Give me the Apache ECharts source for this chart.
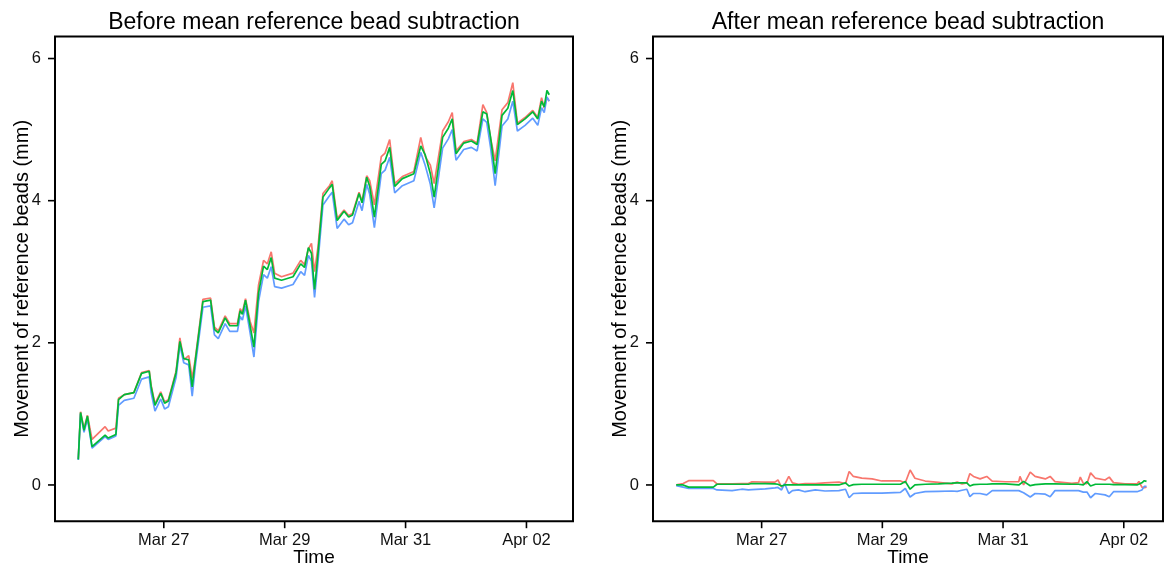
<!DOCTYPE html>
<html>
<head>
<meta charset="utf-8">
<script src="https://cdn.jsdelivr.net/npm/echarts@6/dist/echarts.min.js"></script>
<style>
html,body{margin:0;padding:0;background:#fff;}
#chart{width:1165px;height:568px;}
</style>
</head>
<body>
<div id="chart"></div>
<script>
// time in days since Mar 25 00:00
const tickDays = [2, 4, 6, 8];
const tickLabels = ["Mar 27", "Mar 29", "Mar 31", "Apr 02"];
const yTicks = [0, 2, 4, 6];
const panelTitles = ["Before mean reference bead subtraction", "After mean reference bead subtraction"];
const xTitle = "Time";
const yTitle = "Movement of reference beads (mm)";

const timesBefore = [0.585,0.623,0.680,0.737,0.813,1.029,1.080,1.207,1.251,1.346,1.505,1.632,1.759,1.791,1.854,1.949,2.013,2.076,2.203,2.266,2.330,2.412,2.470,2.520,2.647,2.774,2.838,2.901,3.015,3.091,3.218,3.263,3.301,3.352,3.428,3.491,3.567,3.650,3.713,3.777,3.834,3.948,4.138,4.265,4.329,4.392,4.443,4.494,4.551,4.633,4.741,4.786,4.868,4.982,5.058,5.122,5.230,5.280,5.357,5.407,5.484,5.598,5.661,5.737,5.820,5.947,6.137,6.251,6.327,6.410,6.473,6.613,6.708,6.772,6.835,6.962,7.089,7.184,7.279,7.343,7.406,7.482,7.596,7.692,7.774,7.850,7.977,8.104,8.187,8.250,8.294,8.339,8.377];
const greenBefore = [0.36,1.02,0.77,0.97,0.54,0.70,0.66,0.71,1.20,1.27,1.30,1.57,1.60,1.38,1.12,1.29,1.15,1.18,1.58,2.02,1.78,1.76,1.38,1.74,2.58,2.60,2.19,2.14,2.35,2.24,2.24,2.45,2.40,2.60,2.24,1.94,2.70,3.08,3.03,3.20,2.91,2.88,2.93,3.11,3.06,3.34,3.26,2.75,3.26,4.05,4.18,4.23,3.72,3.85,3.77,3.80,4.10,3.97,4.33,4.20,3.77,4.51,4.56,4.75,4.20,4.31,4.38,4.77,4.64,4.38,4.05,4.89,5.02,5.15,4.66,4.81,4.84,4.79,5.25,5.22,4.89,4.38,5.20,5.30,5.55,5.07,5.15,5.25,5.15,5.40,5.32,5.55,5.49];
const redBefore = [0.36,1.03,0.79,0.98,0.64,0.82,0.76,0.80,1.22,1.27,1.30,1.58,1.61,1.40,1.14,1.31,1.17,1.20,1.60,2.07,1.76,1.82,1.50,1.77,2.61,2.63,2.22,2.17,2.38,2.27,2.27,2.48,2.43,2.62,2.30,2.14,2.81,3.16,3.11,3.28,2.98,2.93,2.98,3.16,3.10,3.32,3.40,3.00,3.35,4.10,4.21,4.28,3.75,3.87,3.79,3.82,4.12,3.99,4.35,4.28,3.94,4.62,4.67,4.86,4.24,4.34,4.41,4.89,4.62,4.50,4.24,4.98,5.11,5.24,4.70,4.83,4.86,4.81,5.35,5.24,4.88,4.56,5.28,5.38,5.66,5.09,5.17,5.27,5.17,5.45,5.30,5.45,5.40];
const blueBefore = [0.35,1.00,0.74,0.93,0.52,0.68,0.64,0.69,1.12,1.19,1.22,1.49,1.52,1.30,1.04,1.21,1.07,1.10,1.51,1.97,1.72,1.69,1.25,1.66,2.50,2.52,2.11,2.06,2.27,2.16,2.16,2.37,2.32,2.52,2.14,1.80,2.58,2.96,2.91,3.07,2.79,2.77,2.82,3.00,2.95,3.23,3.15,2.64,3.14,3.94,4.07,4.12,3.61,3.74,3.66,3.69,3.99,3.86,4.23,4.09,3.62,4.38,4.43,4.61,4.11,4.21,4.28,4.68,4.49,4.23,3.90,4.74,4.87,5.00,4.57,4.72,4.75,4.70,5.15,5.10,4.75,4.21,5.05,5.15,5.40,4.98,5.06,5.16,5.06,5.31,5.24,5.46,5.40];

const timesAfter = [0.585,0.70,0.79,1.00,1.20,1.26,1.51,1.67,1.78,1.84,2.06,2.22,2.27,2.33,2.38,2.45,2.51,2.61,2.72,2.89,3.05,3.28,3.39,3.45,3.52,3.66,3.83,3.99,4.30,4.38,4.46,4.54,4.71,4.93,5.15,5.24,5.32,5.40,5.45,5.51,5.62,5.73,5.82,6.04,6.26,6.28,6.34,6.45,6.53,6.70,6.78,6.86,7.14,7.25,7.28,7.33,7.39,7.45,7.53,7.69,7.76,7.83,8.02,8.22,8.25,8.30,8.34,8.377];
const redAfter = [0.00,0.02,0.06,0.06,0.06,0.015,0.015,0.02,0.02,0.045,0.04,0.04,0.07,-0.03,0.00,0.12,0.03,0.01,0.02,0.02,0.03,0.04,0.02,0.19,0.12,0.095,0.085,0.056,0.056,0.03,0.21,0.095,0.055,0.035,0.015,0.04,0.015,0.03,0.16,0.12,0.085,0.12,0.055,0.045,0.045,0.12,0.00,0.18,0.12,0.085,0.12,0.047,0.023,0.033,0.11,0.023,0.02,0.17,0.095,0.07,0.11,0.033,0.014,0.014,0.05,-0.03,-0.04,-0.03];
const greenAfter = [0.00,0.00,-0.03,-0.03,-0.03,0.01,0.01,0.01,0.01,0.02,0.02,0.015,0.01,-0.015,0.00,0.00,0.00,0.00,0.00,0.00,0.00,0.00,0.03,-0.015,0.005,0.01,0.01,0.01,0.01,0.05,-0.06,0.00,0.01,0.015,0.025,0.03,0.03,0.03,-0.015,0.005,0.01,0.01,0.015,0.015,0.00,0.00,0.05,-0.01,0.005,0.015,0.015,0.015,0.01,0.01,0.005,0.00,0.047,-0.015,0.01,0.01,0.01,0.005,0.005,0.00,-0.005,0.03,0.06,0.05];
const blueAfter = [-0.01,-0.03,-0.05,-0.05,-0.05,-0.07,-0.08,-0.06,-0.07,-0.065,-0.055,-0.04,-0.035,-0.07,0.02,-0.12,-0.08,-0.07,-0.095,-0.07,-0.085,-0.08,-0.06,-0.18,-0.12,-0.115,-0.115,-0.115,-0.105,-0.05,-0.17,-0.12,-0.095,-0.09,-0.085,-0.09,-0.075,-0.06,-0.165,-0.12,-0.12,-0.14,-0.08,-0.08,-0.08,-0.09,-0.11,-0.17,-0.12,-0.13,-0.165,-0.08,-0.08,-0.08,-0.10,-0.10,-0.10,-0.18,-0.12,-0.14,-0.165,-0.095,-0.095,-0.095,-0.08,-0.07,-0.02,-0.02];

const colors = {red: "#F8766D", green: "#00BA38", blue: "#619CFF"};
const FONT = "Liberation Sans, Arial, Helvetica, sans-serif";
const Y_MIN = -0.51, Y_MAX = 6.31;

function pairs(ts, vs) { return ts.map((t, i) => [t, vs[i]]); }

const grids = [
  {left: 55, top: 36.5, width: 518, height: 484.7},
  {left: 653, top: 36.5, width: 510, height: 484.7}
];
const xRanges = [[0.2, 8.77], [0.2, 8.65]];

function xAxis(i) {
  return {
    type: 'value', gridIndex: i, min: xRanges[i][0], max: xRanges[i][1], position: 'bottom',
    name: xTitle, nameLocation: 'middle', nameGap: 27, nameMoveOverlap: false,
    nameTextStyle: {fontFamily: FONT, fontSize: 19, color: '#000'},
    axisLine: {show: false, onZero: false},
    splitLine: {show: false},
    axisTick: {show: false},
    axisLabel: {show: true, margin: 11, customValues: tickDays, fontFamily: FONT, fontSize: 16.5, color: '#111',
      formatter: v => tickLabels[tickDays.indexOf(Math.round(v))] || ''}
  };
}
function yAxis(i) {
  return {
    type: 'value', gridIndex: i, min: Y_MIN, max: Y_MAX, position: 'left',
    name: yTitle, nameLocation: 'middle', nameGap: 23, nameMoveOverlap: false,
    nameTextStyle: {fontFamily: FONT, fontSize: 20, color: '#000'},
    axisLine: {show: false, onZero: false},
    splitLine: {show: false},
    axisTick: {show: false},
    axisLabel: {show: true, margin: 14, customValues: yTicks, fontFamily: FONT, fontSize: 16.5, color: '#111'}
  };
}
function line(i, ts, vs, c, z) {
  return {type: 'line', xAxisIndex: i, yAxisIndex: i, data: pairs(ts, vs), showSymbol: false, symbol: 'none',
    lineStyle: {color: c, width: 1.7}, itemStyle: {color: c}, z: z, silent: true};
}

const chart = echarts.init(document.getElementById('chart'), null, {renderer: 'canvas'});
chart.setOption({
  animation: false,
  backgroundColor: '#fff',
  title: [
    {text: panelTitles[0], left: 314, top: 11, padding: 0, textAlign: 'center',
     textStyle: {fontFamily: FONT, fontSize: 23, fontWeight: 'normal', color: '#000'}},
    {text: panelTitles[1], left: 908, top: 11, padding: 0, textAlign: 'center',
     textStyle: {fontFamily: FONT, fontSize: 23, fontWeight: 'normal', color: '#000'}}
  ],
  grid: grids.map(g => Object.assign({show: false, containLabel: false, outerBoundsMode: 'none'}, g)),
  xAxis: [xAxis(0), xAxis(1)],
  yAxis: [yAxis(0), yAxis(1)],
  series: [
    line(0, timesBefore, redBefore, colors.red, 2),
    line(0, timesBefore, blueBefore, colors.blue, 3),
    line(0, timesBefore, greenBefore, colors.green, 4),
    line(1, timesAfter, redAfter, colors.red, 2),
    line(1, timesAfter, blueAfter, colors.blue, 3),
    line(1, timesAfter, greenAfter, colors.green, 4)
  ]
});

// frame and outward tick marks, positioned through the axes' scales
const gfx = [];
grids.forEach((g, i) => {
  const tl = chart.convertToPixel({gridIndex: i}, [xRanges[i][0], Y_MAX]);
  const br = chart.convertToPixel({gridIndex: i}, [xRanges[i][1], Y_MIN]);
  gfx.push({type: 'rect', silent: true, z: 100,
    shape: {x: tl[0], y: tl[1], width: br[0] - tl[0], height: br[1] - tl[1]},
    style: {fill: 'none', stroke: '#000', lineWidth: 2}});
  tickDays.forEach(d => {
    const p = chart.convertToPixel({gridIndex: i}, [d, Y_MIN]);
    gfx.push({type: 'rect', silent: true, z: 100,
      shape: {x: p[0] - 0.8, y: p[1], width: 1.6, height: 7},
      style: {fill: '#000', stroke: null}});
  });
  yTicks.forEach(v => {
    const p = chart.convertToPixel({gridIndex: i}, [xRanges[i][0], v]);
    gfx.push({type: 'rect', silent: true, z: 100,
      shape: {x: p[0] - 7, y: p[1] - 0.8, width: 7, height: 1.6},
      style: {fill: '#000', stroke: null}});
  });
});
chart.setOption({graphic: gfx});
</script>
</body>
</html>
